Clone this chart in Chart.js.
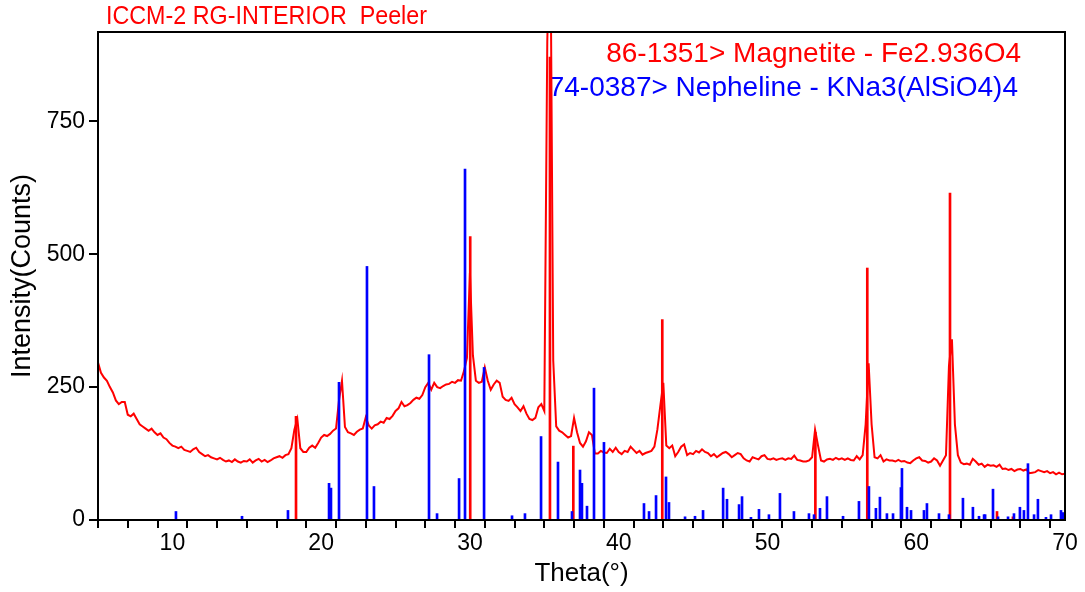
<!DOCTYPE html>
<html>
  <head>
    <meta charset="utf-8" />
    <title>ICCM-2 RG-INTERIOR Peeler</title>
    <style>
      body { margin: 0; background: #fff; }
      canvas { display: block; }
    </style>
  </head>
  <body>
    <canvas id="xrd" width="1085" height="592"></canvas>

    <script src="https://cdn.jsdelivr.net/npm/chart.js@4.4.1/dist/chart.umd.min.js"></script>
    <script>
      // measured scan, 5.0 .. 70.0 deg, one value every 0.2 deg
      var scanStart = 5;
      var scanStep = 0.2;
      var scanCounts = [
        296, 277, 268, 262, 250, 240, 225, 218, 222, 222,
        198, 195, 200, 190, 180, 176, 172, 168, 172, 165,
        160, 163, 155, 152, 145, 140, 138, 135, 138, 132,
        130, 128, 133, 136, 128, 124, 120, 122, 118, 116,
        114, 117, 113, 110, 112, 109, 114, 110, 108, 111,
        110, 114, 108, 112, 115, 110, 113, 109, 112, 116,
        118, 120, 117, 122, 124, 135, 170, 190, 135, 128,
        128, 136, 140, 136, 145, 155, 160, 158, 162, 168,
        172, 225, 262, 175, 165, 163, 160, 166, 170, 172,
        193, 178, 172, 178, 180, 185, 183, 192, 190, 196,
        205, 210, 222, 214, 216, 220, 226, 230, 228, 235,
        250, 258, 245, 258, 250, 248, 252, 255, 256, 260,
        258, 263, 262, 280, 305, 465, 310, 262, 258, 260,
        287, 262, 245, 255, 262, 258, 232, 226, 224, 230,
        218, 212, 205, 214, 200, 190, 188, 192, 212, 218,
        205, 900, 1150, 300, 176, 168, 165, 160, 155, 158,
        192, 165, 145, 138, 148, 165, 160, 125, 125, 130,
        127, 126, 134, 128, 136, 128, 124, 130, 128, 138,
        132, 126, 130, 123, 126, 128, 130, 138, 170, 215,
        258, 140, 135, 140, 120, 128, 138, 142, 122, 126,
        124, 130, 127, 133, 128, 126, 120, 124, 118, 122,
        126, 128, 124, 118, 122, 126, 124, 116, 112, 110,
        118, 116, 114, 120, 122, 115, 114, 116, 113, 115,
        116, 113, 116, 115, 121, 113, 112, 110, 110, 112,
        118, 170, 140, 112, 110, 114, 115, 113, 117, 114,
        116, 113, 116, 113, 112, 120, 114, 122, 180, 295,
        180, 118, 116, 122, 110, 114, 112, 112, 110, 113,
        110, 111, 108, 107, 112, 116, 118, 112, 111, 108,
        110, 116, 112, 102, 112, 122, 290, 340, 180, 122,
        108, 105, 106, 104, 115, 110, 104, 106, 100, 104,
        102, 103, 100, 104, 96, 97, 94, 96, 92, 95,
        96, 93, 95, 88, 89, 90, 94, 92, 90, 92,
        88, 90, 86, 89, 86, 87
      ];

      // 86-1351 Magnetite reference lines
      var magnetiteTheta = [18.31, 30.02, 35.38, 36.95, 42.93, 53.22, 56.71, 62.27, 65.43, 66.5];
      var magnetiteCounts = [195, 533, 871, 139, 377, 165, 474, 615, 16, 6];

      // 74-0387 Nepheline reference lines
      var nephelineTheta = [
        10.24, 14.68, 17.77, 20.53, 20.66, 21.2, 23.08, 23.55, 27.25, 27.79,
        29.27, 29.67, 30.95, 32.83, 33.7, 34.78, 35.92, 36.86, 37.4, 37.53,
        37.87, 38.34, 39.01, 41.7, 42.04, 42.51, 43.18, 43.38, 44.46, 45.13,
        45.67, 47.02, 47.28, 48.09, 48.29, 48.89, 49.43, 50.1, 50.84, 51.78,
        52.79, 53.13, 53.53, 54.0, 55.08, 56.15, 56.82, 57.29, 57.56, 58.03,
        58.44, 58.97, 59.04, 59.38, 59.65, 60.52, 60.72, 61.53, 62.2, 63.14,
        63.81, 64.22, 64.56, 64.63, 65.16, 65.5, 66.17, 66.57, 66.97, 67.24,
        67.51, 67.92, 68.18, 68.72, 69.06, 69.73, 69.86
      ];
      var nephelineCounts = [
        16, 7, 18, 69, 60, 259, 477, 63, 311, 12,
        78, 660, 287, 8, 12, 157, 109, 16, 94, 69,
        26, 248, 146, 31, 16, 46, 81, 33, 6, 7,
        18, 60, 39, 29, 44, 5, 20, 10, 50, 16,
        12, 10, 22, 44, 7, 35, 63, 22, 43, 12,
        12, 61, 97, 24, 18, 18, 31, 12, 10, 41,
        24, 7, 10, 10, 58, 6, 6, 12, 24, 18,
        106, 10, 39, 5, 10, 18, 14
      ];

      // axis ticks
      var xTickMarks = [6, 8, 10, 12, 14, 16, 18, 20, 22, 24, 26, 28, 30, 32, 34, 36, 38, 40,
        42, 44, 46, 48, 50, 52, 54, 56, 58, 60, 62, 64, 66, 68, 70];
      var xTickLabels = [10, 20, 30, 40, 50, 60, 70];
      var yTickMarks = [0, 250, 500, 750];

      var FONT = "'Liberation Sans', Arial, Helvetica, sans-serif";
      Chart.defaults.font.family = FONT;
      Chart.defaults.color = "#000";

      function pairs(xs, ys) {
        return xs.map(function (x, i) { return { x: x, y: ys[i] }; });
      }

      var scanData = scanCounts.map(function (c, i) {
        return { x: scanStart + i * scanStep, y: c };
      });

      // captions: title at top left, phase names inside the plot
      var captions = {
        id: "captions",
        beforeDatasetsDraw: function (chart) {
          var ctx = chart.ctx;
          ctx.save();
          ctx.textBaseline = "middle";
          ctx.textAlign = "left";
          ctx.fillStyle = "#ff0000";
          ctx.font = "25px " + FONT;
          ctx.fillText("ICCM-2 RG-INTERIOR  Peeler", 106, 17, 321);

          ctx.textAlign = "right";
          ctx.font = "28px " + FONT;
          ctx.fillStyle = "#ff0000";
          ctx.fillText("86-1351> Magnetite - Fe2.936O4", 1021, 54);
          ctx.fillStyle = "#0000ff";
          ctx.fillText("74-0387> Nepheline - KNa3(AlSiO4)4", 1018, 88);
          ctx.restore();
        },
        afterDraw: function (chart) {
          var a = chart.chartArea;
          var ctx = chart.ctx;
          ctx.save();
          ctx.strokeStyle = "#000";
          ctx.lineWidth = 2;
          ctx.strokeRect(a.left, a.top, a.right - a.left, a.bottom - a.top);
          ctx.restore();
        }
      };

      var ctx = document.getElementById("xrd");
      var xrdChart = new Chart(ctx, {
        type: "bar",
        data: {
          datasets: [
            {
              type: "line",
              label: "scan",
              data: scanData,
              borderColor: "#ff0000",
              borderWidth: 2,
              pointRadius: 0,
              tension: 0,
              order: 3
            },
            {
              label: "Magnetite",
              data: pairs(magnetiteTheta, magnetiteCounts),
              backgroundColor: "#ff0000",
              barThickness: 2,
              grouped: false,
              order: 2
            },
            {
              label: "Nepheline",
              data: pairs(nephelineTheta, nephelineCounts),
              backgroundColor: "#0000ff",
              barThickness: 2,
              grouped: false,
              order: 1
            }
          ]
        },
        options: {
          responsive: false,
          animation: false,
          layout: { padding: { top: 32, right: 20, left: 0, bottom: 0 } },
          plugins: {
            legend: { display: false },
            tooltip: { enabled: false }
          },
          scales: {
            x: {
              type: "linear",
              min: 5,
              max: 70,
              offset: false,
              afterBuildTicks: function (s) {
                s.ticks = xTickMarks.map(function (v) { return { value: v }; });
              },
              afterFit: function (s) { s.height = 72; },
              ticks: {
                autoSkip: false,
                maxRotation: 0,
                padding: 2,
                font: { size: 23 },
                callback: function (v) {
                  return xTickLabels.indexOf(v) >= 0 ? String(v) : "";
                }
              },
              grid: { drawOnChartArea: false, tickLength: 8, color: "#000", lineWidth: 2 },
              border: { color: "#000", width: 2 },
              title: {
                display: true,
                text: "Theta(°)",
                font: { size: 26 },
                padding: { top: 0, bottom: 3 }
              }
            },
            y: {
              min: 0,
              max: 918,
              afterBuildTicks: function (s) {
                s.ticks = yTickMarks.map(function (v) { return { value: v }; });
              },
              afterFit: function (s) { s.width = 98; },
              ticks: { padding: 4, font: { size: 23 } },
              grid: { drawOnChartArea: false, tickLength: 9, color: "#000", lineWidth: 2 },
              border: { color: "#000", width: 2 },
              title: {
                display: true,
                text: "Intensity(Counts)",
                font: { size: 27 },
                padding: { top: 6, bottom: 0 }
              }
            }
          }
        },
        plugins: [captions]
      });
    </script>
  </body>
</html>
